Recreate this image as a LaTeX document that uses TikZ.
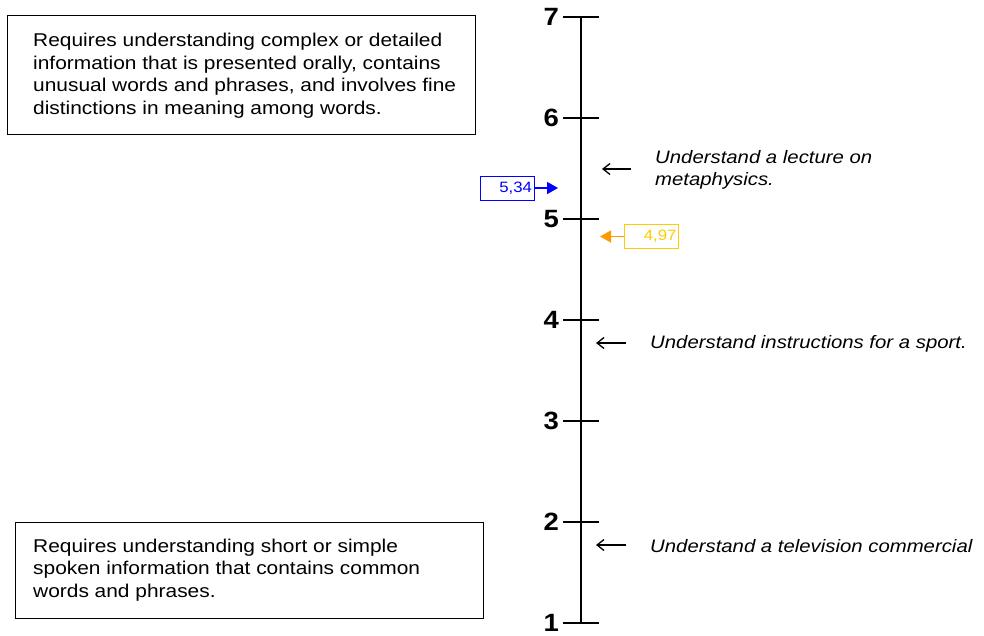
\documentclass[tikz,border=0pt]{standalone}
\usepackage{fontspec}
\setmainfont{Liberation Sans}
\usepackage{graphicx}
\usetikzlibrary{arrows.meta}
\definecolor{vblue}{RGB}{0,0,255}
\definecolor{vgold}{RGB}{255,204,0}
\definecolor{vorange}{RGB}{255,153,0}
\newcommand{\hstr}[2][1.13]{\scalebox{#1}[1]{#2}}
\begin{document}
\begin{tikzpicture}[x=1pt,y=-1pt,
  descbox/.style={draw, line width=1.2pt, inner sep=0pt, anchor=north west},
  desctext/.style={anchor=west, inner sep=0pt, font=\fontsize{18.5}{22.5}\selectfont},
  axisline/.style={line width=1.7pt},
  numlbl/.style={anchor=east, inner sep=0pt, font=\fontsize{25}{28}\selectfont\bfseries},
  valbox/.style={draw, line width=1pt, minimum height=24pt, text width=50pt, align=right, inner xsep=2pt, inner ysep=0pt, font=\fontsize{15}{17}\selectfont},
  valarrow/.style={line width=1.5pt, -{Triangle[length=11pt,width=12pt]}},
  blackarrow/.style={line width=1.3pt, -{Straight Barb[length=7pt,width=11pt]}},
  example/.style={anchor=west, inner sep=0pt, align=left, font=\fontsize{18}{22}\selectfont\itshape}
]
\useasboundingbox (0,0) rectangle (984,635);

% axis
\foreach \v/\y in {7/17,6/118,5/219,4/320,3/421,2/522,1/623}{
  \coordinate (t\v) at (581,\y);
  \draw[axisline] ([xshift=-18pt]t\v) -- ([xshift=18pt]t\v);
  \node[numlbl] (n\v) at (559,\y) {\hstr[1.1]{\v}};
}
\draw[axisline] (t7) -- (t1);

% description boxes
\node[descbox, minimum width=468pt, minimum height=119pt] (topbox) at (7,15) {};
\node[desctext] (toptext) at (33,76) {\hstr{\begin{tabular}{@{}l@{}}Requires understanding complex or detailed\\information that is presented orally, contains\\unusual words and phrases, and involves fine\\distinctions in meaning among words.\end{tabular}}};

\node[descbox, minimum width=468pt, minimum height=96pt] (botbox) at (15,522) {};
\node[desctext] (bottext) at (33,570) {\hstr{\begin{tabular}{@{}l@{}}Requires understanding short or simple\\spoken information that contains common\\words and phrases.\end{tabular}}};

% value markers
\node[valbox, draw=vblue, text=vblue] (vb) at (507,188) {\hstr[1.12]{5,34}};
\coordinate (vbtip) at (558,188);
\draw[valarrow, vblue] (vb.east) -- (vbtip);

\node[valbox, draw=vgold, text=vgold] (vo) at (651.5,236.5) {\hstr[1.12]{4,97}};
\coordinate (votip) at (600,236.5);
\draw[valarrow, vorange] (vo.west) -- (votip);

% examples
\coordinate (a1s) at (631,169); \coordinate (a1e) at (602,169);
\coordinate (a2s) at (626,343); \coordinate (a2e) at (596,343);
\coordinate (a3s) at (626,545); \coordinate (a3e) at (596,545);
\draw[blackarrow] (a1s) -- (a1e);
\draw[blackarrow] (a2s) -- (a2e);
\draw[blackarrow] (a3s) -- (a3e);

\node[example] (e1) at (655,170) {\hstr{\begin{tabular}{@{}l@{}}Understand a lecture on\\metaphysics.\end{tabular}}};
\node[example] (e2) at (650,344) {\hstr{Understand instructions for a sport.}};
\node[example] (e3) at (650,546) {\hstr{Understand a television commercial}};
\end{tikzpicture}
\end{document}
